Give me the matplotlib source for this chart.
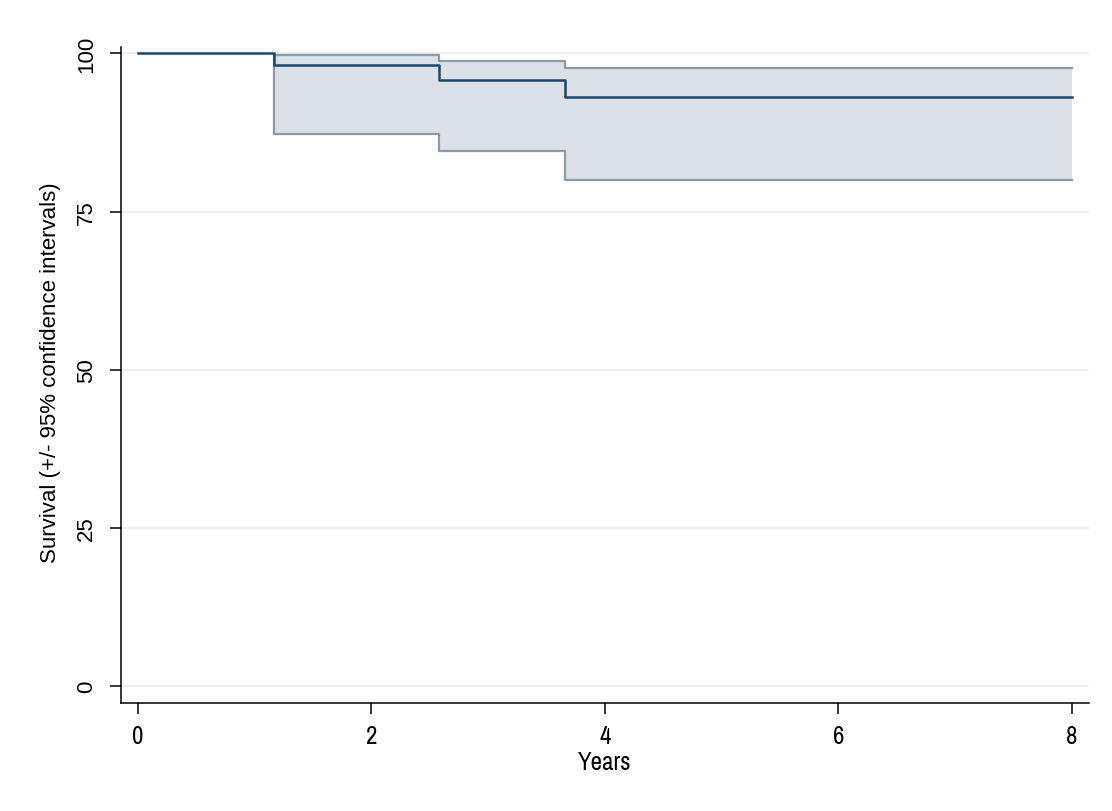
import matplotlib.pyplot as plt
from matplotlib import font_manager

# Kaplan-Meier estimate
times = [0, 1.165, 2.58, 3.66, 8.0]
surv = [100, 98.1, 95.8, 93.1, 93.1]
ci_upper = [100, 99.7, 98.85, 97.7, 97.7]
ci_lower = [100, 87.2, 84.6, 80.0, 80.0]
x_ticks = [0, 2, 4, 6, 8]
y_ticks = [0, 25, 50, 75, 100]

names = {f.name for f in font_manager.fontManager.ttflist}


def pick(*cands):
    for c in cands:
        if c in names:
            return c
    return "DejaVu Sans"


narrow = pick("Liberation Sans Narrow", "Archivo Narrow", "Liberation Sans")
regular = pick("Liberation Sans", "Arimo")
plt.rcParams['font.family'] = [regular, 'DejaVu Sans']

navy = "#1a476f"
ci_col = "#8c9aaa"
fill_col = "#dce1e8"

fig = plt.figure(figsize=(11.12, 8.12), dpi=100)
ax = fig.add_axes([0.1088, 0.1326, 0.8705, 0.8083])

# CI band starts at the first drop
ax.fill_between(times[1:], ci_lower[1:], ci_upper[1:], step="post",
                color=fill_col, lw=0, zorder=1)
ax.step(times[1:], ci_upper[1:], where="post", color=ci_col, lw=1.6, zorder=2)
ax.step(times[1:], ci_lower[1:], where="post", color=ci_col, lw=1.6, zorder=2)
ax.vlines(times[1], ci_lower[1], ci_upper[1], color=ci_col, lw=1.6, zorder=2)
ax.step(times, surv, where="post", color=navy, lw=1.8, zorder=3)

ax.set_xlim(-0.143, 8.145)
ax.set_ylim(-2.69, 101)
ax.set_xticks(x_ticks)
ax.set_xticklabels([str(v) for v in x_ticks], family=[narrow, 'DejaVu Sans'],
                   fontsize=18)
ax.set_yticks(y_ticks)
ax.set_yticklabels([str(v) for v in y_ticks], rotation=90, va="center",
                   fontsize=16)
ax.tick_params(axis="both", direction="out", length=8, width=1.1,
               colors="black")
ax.tick_params(axis="x", pad=7)
ax.tick_params(axis="y", pad=9)
ax.grid(axis="y", color="#ebebeb", lw=1.2, zorder=0)
ax.set_axisbelow(True)

for s in ["top", "right"]:
    ax.spines[s].set_visible(False)
for s in ["left", "bottom"]:
    ax.spines[s].set_linewidth(1.1)

ax.set_xlabel("Years", fontsize=18, family=[narrow, 'DejaVu Sans'], labelpad=2)
ax.set_ylabel("Survival (+/- 95% confidence intervals)", fontsize=16, labelpad=11)
ax.yaxis.label.set_y(0.5056)

fig.savefig("out.png", dpi=100, facecolor="white")
